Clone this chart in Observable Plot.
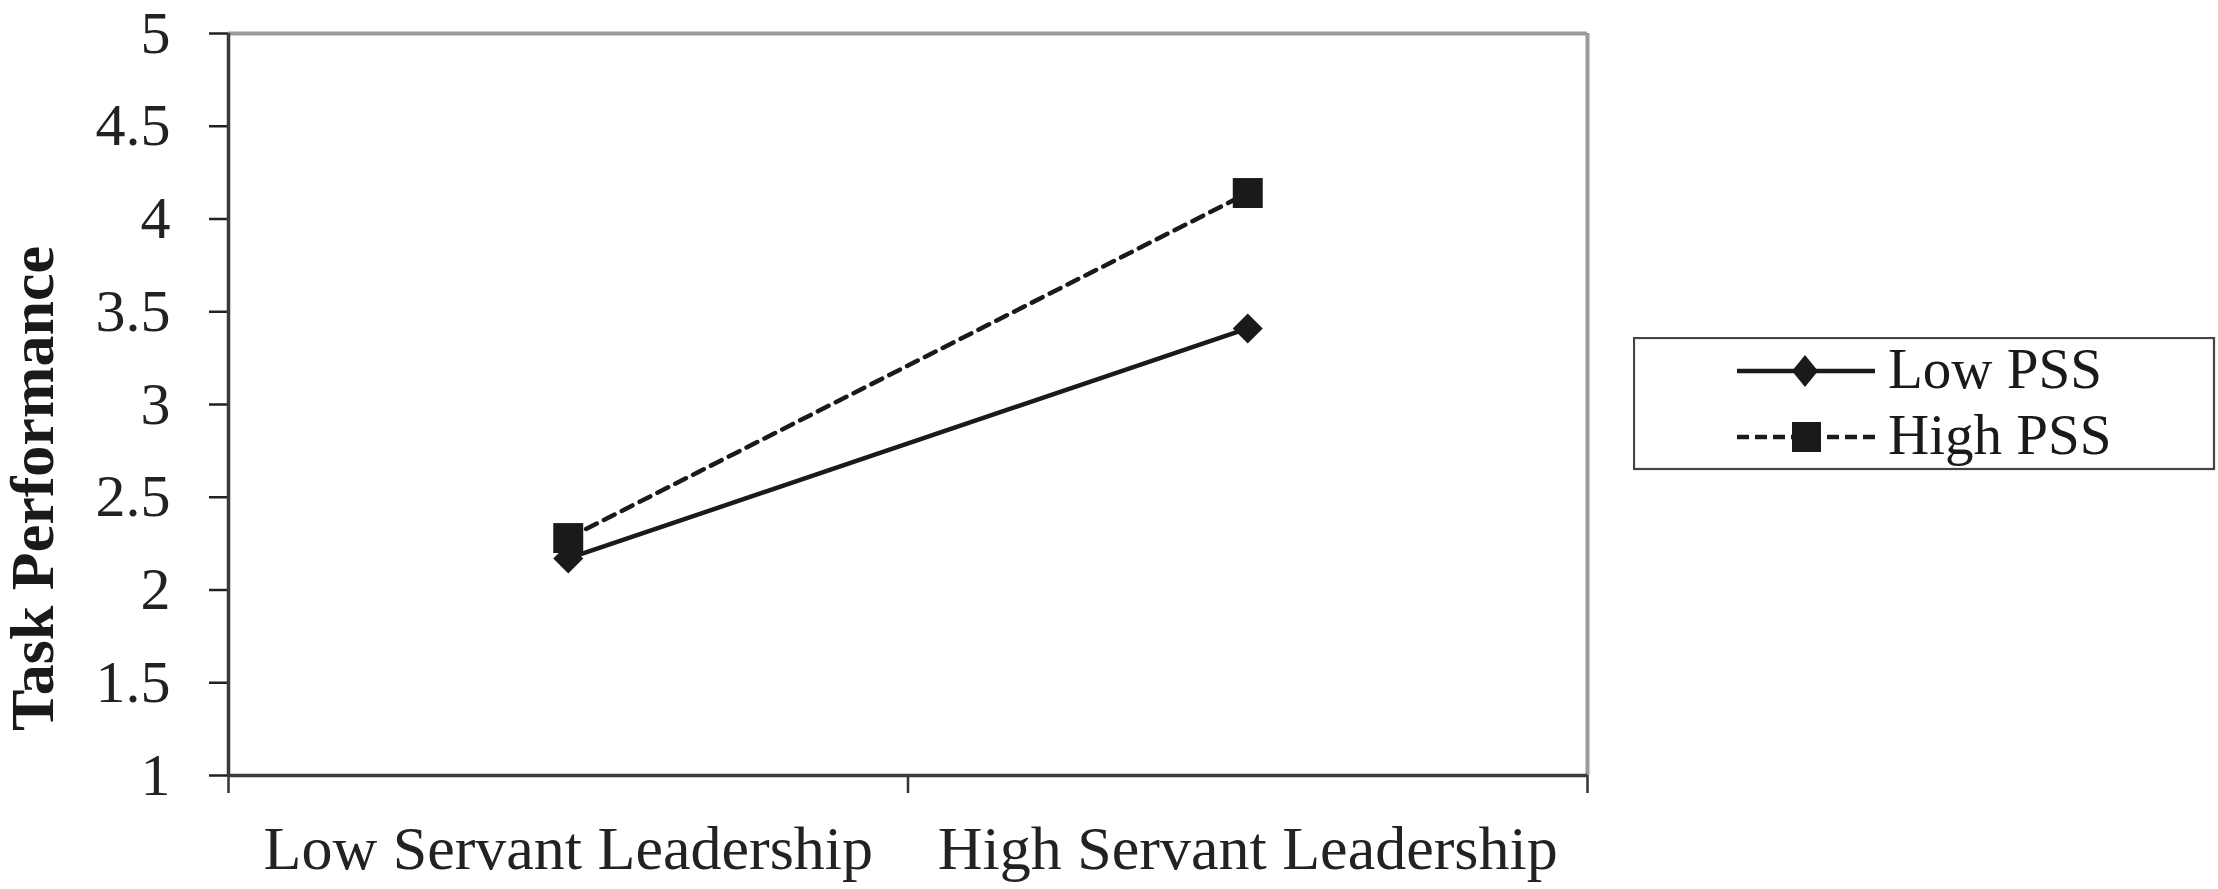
<!DOCTYPE html>
<html>
<head>
<meta charset="utf-8">
<script src="https://cdn.jsdelivr.net/npm/d3@7"></script>
<script src="https://cdn.jsdelivr.net/npm/@observablehq/plot@0.6"></script>
<style>
  html, body { margin: 0; padding: 0; background: #fff; }
  #wrap { position: relative; width: 2218px; height: 889px; overflow: hidden; }
  #wrap svg { position: absolute; left: 0; top: 0; }
</style>
</head>
<body>
<div id="wrap"></div>
<script>
// ---- data ----
const categories = ["Low Servant Leadership", "High Servant Leadership"];
const seriesNames = ["Low PSS", "High PSS"];
const lowPSS = [2.17, 3.41];
const highPSS = [2.28, 4.14];
const yTicks = [1, 1.5, 2, 2.5, 3, 3.5, 4, 4.5, 5];
const yTitle = "Task Performance";

// tidy table built from the arrays
const rows = [];
[lowPSS, highPSS].forEach((vals, s) => {
  vals.forEach((v, i) => rows.push({series: seriesNames[s], cat: categories[i], idx: i + 0.5, value: v}));
});
const lowRows = rows.filter(d => d.series === seriesNames[0]);
const highRows = rows.filter(d => d.series === seriesNames[1]);
const catPos = categories.map((c, i) => i + 0.5);
const catBounds = d3.range(categories.length + 1);

const FONT = '"Liberation Serif", "Times New Roman", Times, serif';
const INK = "#1a1a1a";

const chart = Plot.plot({
  width: 2218,
  height: 889,
  marginLeft: 228,
  marginRight: 631,
  marginTop: 33,
  marginBottom: 114,
  style: {fontFamily: FONT, fontSize: "60px", color: "#222", background: "#fff", overflow: "visible"},
  x: {domain: [0, categories.length], axis: null},
  y: {domain: [yTicks[0], yTicks[yTicks.length - 1]], axis: null},
  marks: [
    // frame: gray top & right, dark left & bottom
    Plot.ruleY([yTicks[yTicks.length - 1]], {stroke: "#9c9c9c", strokeWidth: 4}),
    Plot.ruleX([categories.length], {stroke: "#9c9c9c", strokeWidth: 4}),
    // y axis
    Plot.axisY({ticks: yTicks, tickSize: 19, tickPadding: 39, tickFormat: d => String(d), label: null,
                fontSize: 60, color: "#222", strokeWidth: 2.5}),
    // x axis boundary ticks (no labels)
    Plot.axisX({ticks: catBounds, tickSize: 18, tickFormat: () => "", label: null, color: "#333", strokeWidth: 2.5}),
    // x category labels
    Plot.axisX({ticks: catPos, tickSize: 0, tickPadding: 49, tickFormat: (d) => categories[Math.round(d - 0.5)],
                fontSize: 62, color: "#222", label: null}),
    Plot.ruleX([0], {stroke: "#3a3a3a", strokeWidth: 3.5}),
    Plot.ruleY([yTicks[0]], {stroke: "#3a3a3a", strokeWidth: 3.5}),
    // y title
    Plot.text([yTitle], {frameAnchor: "left", text: d => d, rotate: -90, fontSize: 62, fontWeight: "bold",
                         lineAnchor: "bottom", textAnchor: "middle", dx: -176, dy: 84, fill: "#1a1a1a"}),
    // series
    Plot.line(lowRows, {x: "idx", y: "value", stroke: INK, strokeWidth: 4.5}),
    Plot.dot(lowRows, {x: "idx", y: "value", symbol: "diamond2", r: 13.5, fill: INK, stroke: "none"}),
    Plot.line(highRows, {x: "idx", y: "value", stroke: INK, strokeWidth: 4.5, strokeDasharray: "12,8", strokeLinecap: "round"}),
    Plot.dot(highRows, {x: "idx", y: "value", symbol: "square", r: 16.9, fill: INK, stroke: "none"})
  ]
});
document.getElementById("wrap").appendChild(chart);

// ---- legend (right side) ----
const lg = d3.select("#wrap").append("svg")
  .attr("width", 584).attr("height", 134)
  .style("left", "1633px").style("top", "337px");
lg.append("rect").attr("x", 1).attr("y", 1).attr("width", 580).attr("height", 131)
  .attr("fill", "#fff").attr("stroke", "#444").attr("stroke-width", 2.2);
const rowsY = [34, 100];
seriesNames.forEach((name, i) => {
  const g = lg.append("g").attr("transform", `translate(0,${rowsY[i]})`);
  g.append("line").attr("x1", 104).attr("x2", 242).attr("y1", 0).attr("y2", 0)
    .attr("stroke", INK).attr("stroke-width", 4.5)
    .attr("stroke-dasharray", i === 1 ? "12,6" : null);
  if (i === 0) {
    g.append("path").attr("d", "M172,-16L185,0L172,16L159,0Z").attr("fill", INK);
  } else {
    g.append("rect").attr("x", 159).attr("y", -15).attr("width", 29).attr("height", 30).attr("fill", INK);
  }
  g.append("text").attr("x", 255).attr("y", 17).text(name)
    .attr("font-family", FONT).attr("font-size", 57).attr("fill", "#1a1a1a");
});
</script>
</body>
</html>
